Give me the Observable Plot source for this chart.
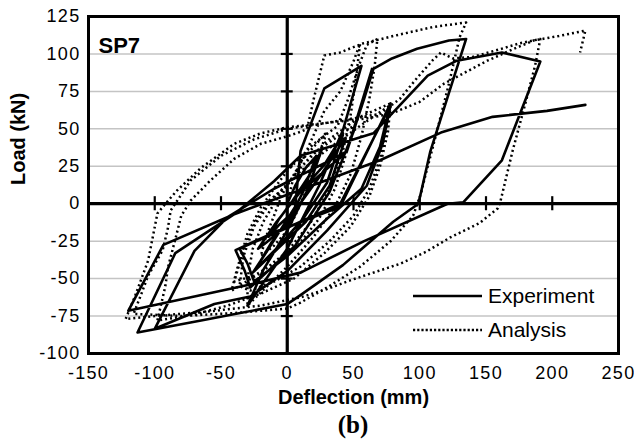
<!DOCTYPE html>
<html><head><meta charset="utf-8">
<script src="https://cdn.jsdelivr.net/npm/d3@7"></script>
<script src="https://cdn.jsdelivr.net/npm/@observablehq/plot@0.6"></script>
<style>
body{margin:0;background:#fff;font-family:"Liberation Sans",Arial,sans-serif;}
#wrap{position:relative;width:634px;height:440px;overflow:hidden;}
#cap{position:absolute;left:88px;top:411px;width:530px;text-align:center;font:bold 25px "Liberation Serif","Times New Roman",serif;line-height:28px;}
.row{position:absolute;left:413px;height:34px;display:flex;align-items:center;font-size:21px;}
.row svg{width:75px;height:34px;flex:none;}
</style></head>
<body><div id="wrap"><div id="chart"></div><div id="cap">(b)</div>
<div class="row" style="top:279px"><svg><line x1="0" y1="17" x2="69" y2="17" stroke="black" stroke-width="2.6"/></svg><span>Experiment</span></div>
<div class="row" style="top:313px"><svg><line x1="0" y1="17" x2="69" y2="17" stroke="black" stroke-width="2.6" stroke-dasharray="2.2,2"/></svg><span>Analysis</span></div>
</div>
<script>
// [deflection (mm), load (kN)]
const experiment = [
[0,0],[6,12],[14,24],[22,32],[12,8],[4,-6],[-6,-14],[-14,-22],[-6,-10],[4,2],[16,18],[26,36],[14,6],[0,-14],[-16,-26],[-22,-30],
[-8,-12],[10,8],[28,26],[42,46],[30,14],[12,-10],[-6,-28],[-24,-44],[-12,-26],[8,-2],[26,20],[44,44],[32,12],[14,-12],[-26,-46],
[-14,-30],[6,-2],[10,35],[28,77],[56,92],[42,49],[24,12],[0,-30],[-30,-68],[-18,-44],[0,-18],[18,14],[45,35],[64,90],[50,48],[32,8],[6,-28],[-28,-56],
[-32,-45],[-39,-31],[-7,-18],[40,-2],[78,67],[70,38],[56,10],[30,-10],[0,-35],[-25,-52],[-30,-40],[-36,-30],[0,-16],[40,0],[78,66],
[72,40],[60,12],[30,-18],[0,-45],[-28,-62],[-55,-67],[-100,-83.5],[-70,-31.5],[-45,-9],[-10,10],[30,28],[45,35],[58,70],[65,90],
[79,97],[98,103.5],[122,109],[135,110],[108,35],[99,0],[80,-12],[42,-41],[10,-61],[0,-67],[-65,-78],[-113,-86],[-84.5,-33],[-40,-7],
[-10,15],[10,32],[65,47],[106,85.5],[128,95.5],[162,101],[191,95],[162,29],[133,1],[121,0],[58,-25],[10,-46],[-28,-54],[-120,-71.5],
[-93.5,-27.5],[-40,-7],[0,6],[70,29],[116,47.5],[155,58],[196,62],[225,66]
];
const analysis = [
[0,0],[4,15],[10,28],[20,38],[30,48],[22,28],[14,8],[6,-8],[0,-18],[-10,-28],[-20,-35],[-16,-22],[-10,-8],[-4,6],[4,18],[20,34],[40,46],[50,52],
[44,32],[36,10],[24,-10],[8,-28],[-10,-40],[-25,-48],[-40,-52],[-36,-40],[-30,-25],[-24,-12],[-14,2],[0,12],[12,30],[20,46],[28,62],[40,75],
[50,95],[55,107],[52,85],[48,60],[42,35],[32,10],[18,-12],[0,-32],[-20,-46],[-42,-58],[-38,-44],[-30,-20],[-20,-2.5],[-10,10],[0,22],[20,40],
[38,52],[46,70],[54,92],[60,106],[68,110],[66,92],[62,70],[56,45],[48,20],[36,-2],[20,-22],[0,-42],[-15,-55],[-30,-68],[-30,-50],[-26,-30],
[-18,-12],[-6,6],[10,24],[30,42],[55,58],[78,67],[75,50],[70,30],[62,10],[50,-8],[32,-25],[10,-42],[-10,-52],[-28,-58],[-36,-55],[-33,-35],
[-25,-15],[-12,2],[5,18],[30,36],[55,52],[78,66],[76,48],[70,25],[62,5],[48,-15],[28,-33],[5,-50],[-20,-60],[-45,-68],[-70,-74],[-98,-78],
[-92,-55],[-90,-42.5],[-84,-22],[-80,-8],[-73,2],[-58,15.5],[-40,30],[-20,40],[0,45],[10,48],[15,50],[20,70],[28,99],[40,101],[57,107],
[85,113],[110,118],[135,121],[130,111],[122,80],[112,45],[104,18],[101,7],[95,-8],[78,-25],[55,-42],[30,-56],[10,-66],[0,-70],[-40,-73],
[-80,-75],[-116,-73.5],[-110,-60],[-105,-48],[-94,-31],[-90,-16],[-88,-4.5],[-80,6],[-73,15.5],[-50,32],[-25,43],[0,50],[23,53],[50,57],
[70,60],[85,70],[98,84],[110,96],[116,101],[125,97],[140,98],[160,103],[175,107],[191,110],[187,92],[180,68],[170,35],[161,2],[159,-3],
[145,-13],[123,-22.5],[105,-32],[85.5,-40],[65,-46],[48,-51],[30,-57],[10,-62.5],[-20,-68],[-60,-72],[-100,-75],[-122,-77],[-115,-62],
[-110,-50],[-105,-38],[-101,-20],[-98,-6.5],[-90,2],[-83,9],[-65,24],[-40,40],[-20,47],[0,51],[30,54],[60,57],[78,60],[100,68],[118,80],
[135,88],[151,95.5],[170,103],[186,109],[205,112],[225,115.6],[221,101]
];
const xTicks = [-150,-100,-50,0,50,100,150,200,250];
const yTicks = [-100,-75,-50,-25,0,25,50,75,100,125];
const gridLoads = [-75,-50,-25,25,50,75,100];
const xCross = [-100,-50,50,100,150,200];
const yCross = [-75,-50,-25,25,50,75,100];

const chart = Plot.plot({
  width: 634, height: 412,
  marginTop: 16, marginBottom: 59, marginLeft: 88, marginRight: 16,
  x: {domain: [-150, 250]},
  y: {domain: [-100, 125]},
  style: {fontFamily: '"Liberation Sans", Arial, sans-serif', background: "white", color: "black"},
  marks: [
    Plot.gridY(gridLoads, {stroke: "#c4c4c4", strokeOpacity: 1, strokeWidth: 1.5}),
    Plot.line(analysis, {x: d => d[0], y: d => d[1], stroke: "black", strokeWidth: 2.5, strokeDasharray: "2,3", strokeLinecap: "butt", className: "ana"}),
    Plot.line(experiment, {x: d => d[0], y: d => d[1], stroke: "black", strokeWidth: 2.6}),
    Plot.ruleY([0], {stroke: "black", strokeWidth: 3.2}),
    Plot.ruleX([0], {stroke: "black", strokeWidth: 3.2}),
    Plot.ruleX(xCross, {x: d => d, y1: -4.7, y2: 4.7, stroke: "black", strokeWidth: 2.2}),
    Plot.ruleY(yCross, {y: d => d, x1: -4.5, x2: 4.5, stroke: "black", strokeWidth: 2.2}),
    Plot.frame({stroke: "black", strokeWidth: 3}),
    Plot.axisX({ticks: xTicks, tickSize: 0, tickPadding: 13, fontSize: 18, tickFormat: d => String(d), label: null, className: "tk"}),
    Plot.axisY({ticks: yTicks, tickSize: 0, tickPadding: 8, fontSize: 18, tickFormat: d => String(d), label: null, className: "tk"}),
    Plot.text(["Deflection (mm)"], {text: d => d, frameAnchor: "bottom", dy: 50, fontWeight: "bold", fontSize: 20}),
    Plot.text(["Load (kN)"], {text: d => d, frameAnchor: "left", rotate: -90, dx: -70, fontWeight: "bold", fontSize: 20}),
    Plot.text(["SP7"], {text: d => d, frameAnchor: "top-left", dx: 10, dy: 21, textAnchor: "start", fontWeight: "bold", fontSize: 22})
  ]
});
d3.select(chart).selectAll(".ana path").attr("stroke-dasharray", "2,3");
d3.select(chart).selectAll(".tk text").style("letter-spacing", "1.3px");
document.getElementById("chart").appendChild(chart);
</script>
</body></html>
